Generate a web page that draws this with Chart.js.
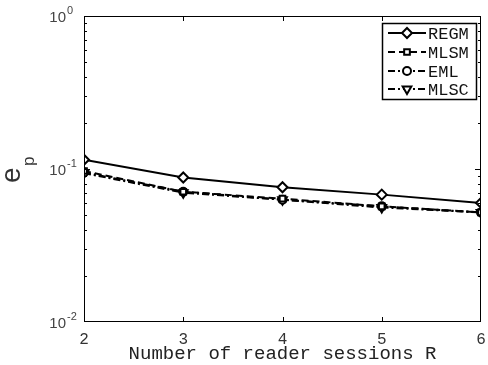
<!DOCTYPE html>
<html>
<head>
<meta charset="utf-8">
<script src="https://cdn.jsdelivr.net/npm/chart.js@4/dist/chart.umd.min.js"></script>
<style>
  html, body { margin: 0; padding: 0; background: #fff; }
  #wrap { width: 488px; height: 365px; }
</style>
</head>
<body>
<div id="wrap"><canvas id="chart" width="488" height="365"></canvas></div>
<script>
// data
const sessions = [2, 3, 4, 5, 6];
const regm = [0.115, 0.088, 0.076, 0.068, 0.060];
const mlsm = [0.097, 0.071, 0.064, 0.057, 0.052];
const eml  = [0.095, 0.071, 0.063, 0.057, 0.052];
const mlsc = [0.094, 0.070, 0.063, 0.056, 0.052];
const yDecades = [-2, -1, 0];
const seriesNames = ['REGM', 'MLSM', 'EML', 'MLSC'];

const monoFont = '"Liberation Mono", "DejaVu Sans Mono", monospace';
const sansFont = '"Liberation Sans", Arial, sans-serif';

function toPoints(ys) {
    return sessions.map((x, i) => ({ x: x, y: ys[i] }));
}

const styles = [
    { dash: [], point: 'rectRot', radius: 5, rotation: 0 },
    { dash: [7, 4], point: 'rect', radius: 4, rotation: 0 },
    { dash: [7, 3, 2, 3], point: 'circle', radius: 4, rotation: 0 },
    { dash: [7, 3, 2, 3], point: 'triangle', radius: 5, rotation: 180 }
];

const datasets = [regm, mlsm, eml, mlsc].map((vals, i) => ({
    label: seriesNames[i],
    data: toPoints(vals),
    borderColor: '#000',
    borderWidth: 2,
    borderDash: styles[i].dash,
    pointStyle: styles[i].point,
    pointRadius: styles[i].radius,
    pointRotation: styles[i].rotation,
    pointBorderWidth: 2,
    pointBorderColor: '#000',
    pointBackgroundColor: '#fff',
    tension: 0,
    fill: false
}));

// axes box, minor ticks, y labels, y title and legend
const decorations = {
    id: 'decorations',
    afterDraw(chart) {
        const ctx = chart.ctx;
        const area = chart.chartArea;
        const xs = chart.scales.x;
        const ys = chart.scales.y;
        ctx.save();
        ctx.strokeStyle = '#000';
        ctx.lineWidth = 1;
        ctx.setLineDash([]);
        ctx.strokeRect(area.left + 0.5, area.top + 0.5, area.right - area.left - 1, area.bottom - area.top - 1);

        ctx.beginPath();
        // y minor + major ticks (both sides)
        for (let d = -2; d < 0; d++) {
            for (let k = 1; k <= 9; k++) {
                if (k === 1 && d === -2) continue;
                const py = Math.round(ys.getPixelForValue(k * Math.pow(10, d))) + 0.5;
                const len = k === 1 ? 6 : 3;
                ctx.moveTo(area.left, py); ctx.lineTo(area.left + len, py);
                ctx.moveTo(area.right, py); ctx.lineTo(area.right - len, py);
            }
        }
        // x ticks (bottom and top)
        sessions.slice(1, -1).forEach(v => {
            const px = Math.round(xs.getPixelForValue(v)) + 0.5;
            ctx.moveTo(px, area.bottom); ctx.lineTo(px, area.bottom - 5);
            ctx.moveTo(px, area.top); ctx.lineTo(px, area.top + 5);
        });
        ctx.stroke();

        // y tick labels 10^n
        ctx.fillStyle = '#444';
        yDecades.forEach(e => {
            const py = ys.getPixelForValue(Math.pow(10, e));
            ctx.font = '15px ' + sansFont;
            ctx.textAlign = 'right';
            ctx.textBaseline = 'middle';
            ctx.fillText('10', 66, py + 2);
            ctx.font = '11px ' + sansFont;
            ctx.textAlign = 'left';
            ctx.fillText(String(e), 67, py - 5);
        });

        // y axis title e_p
        ctx.save();
        ctx.translate(20, 177);
        ctx.rotate(-Math.PI / 2);
        ctx.fillStyle = '#333';
        ctx.textAlign = 'left';
        ctx.textBaseline = 'alphabetic';
        ctx.font = '28px ' + sansFont;
        ctx.fillText('e', -6, 0);
        ctx.font = '17px ' + sansFont;
        ctx.fillText('p', 11, 14);
        ctx.restore();

        // legend box
        const lx = 382, ly = 23, lw = 94, lh = 76;
        ctx.fillStyle = '#fff';
        ctx.fillRect(lx, ly, lw, lh);
        ctx.strokeStyle = '#000';
        ctx.lineWidth = 1.5;
        ctx.strokeRect(lx + 0.5, ly + 0.5, lw, lh);
        const rows = [33, 52, 71, 89];
        chart.data.datasets.forEach((ds, i) => {
            const ry = rows[i];
            ctx.lineWidth = 2;
            ctx.setLineDash(ds.borderDash);
            ctx.beginPath();
            ctx.moveTo(388, ry); ctx.lineTo(426, ry);
            ctx.stroke();
            ctx.setLineDash([]);
            ctx.fillStyle = '#fff';
            Chart.helpers.drawPoint(ctx, {
                pointStyle: ds.pointStyle,
                radius: ds.pointRadius,
                rotation: ds.pointRotation,
                borderWidth: 2
            }, 407, ry);
            ctx.fillStyle = '#111';
            ctx.font = '17px ' + monoFont;
            ctx.textAlign = 'left';
            ctx.textBaseline = 'middle';
            ctx.fillText(ds.label, 428, ry + 1);
        });
        ctx.restore();
    }
};

new Chart(document.getElementById('chart').getContext('2d'), {
    type: 'line',
    data: { datasets: datasets },
    options: {
        responsive: false,
        animation: false,
        layout: { padding: { left: 0, top: 16, right: 3, bottom: 0 } },
        plugins: {
            legend: { display: false },
            tooltip: { enabled: false }
        },
        scales: {
            x: {
                type: 'linear',
                min: 2,
                max: 6,
                grid: { display: false },
                border: { display: false },
                ticks: {
                    stepSize: 1,
                    color: '#333',
                    padding: 0,
                    font: { family: monoFont, size: 16 }
                },
                title: {
                    display: true,
                    text: 'Number of reader sessions R',
                    color: '#222',
                    padding: { top: 0, bottom: 0 },
                    font: { family: monoFont, size: 19 }
                },
                afterFit(scale) { scale.height = 43; }
            },
            y: {
                type: 'logarithmic',
                min: 0.01,
                max: 1,
                grid: { display: false },
                border: { display: false },
                ticks: { display: false },
                afterFit(scale) { scale.width = 84; }
            }
        }
    },
    plugins: [decorations]
});
</script>
</body>
</html>
